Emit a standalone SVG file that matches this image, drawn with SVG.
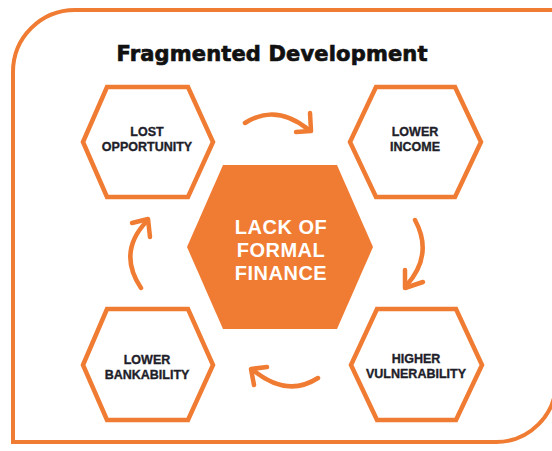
<svg xmlns="http://www.w3.org/2000/svg" width="552" height="451" viewBox="0 0 552 451">
<defs>
<style>
.border{fill:none;stroke:#F07B32;stroke-width:4}
.hex{fill:#FFFFFF;stroke:#F07B32;stroke-width:4.5;stroke-linejoin:miter}
.hexc{fill:#F07B32;stroke:none}
.lbl{font-family:"Liberation Sans",Arial,sans-serif;font-weight:bold;font-size:12.5px;fill:#1E1E2A;stroke:#1E1E2A;stroke-width:0.35px;text-anchor:middle}
.clbl{font-family:"Liberation Sans",Arial,sans-serif;font-weight:bold;font-size:20px;fill:#FFFFFF;text-anchor:middle;letter-spacing:0.5px}
.title{font-family:"DejaVu Sans","Liberation Sans",sans-serif;font-weight:bold;font-size:21px;fill:#111111;stroke:#111111;stroke-width:0.7px;text-anchor:middle}
.arr{fill:none;stroke:#F07B32;stroke-width:4.5;stroke-linecap:round;stroke-linejoin:round}
</style>
</defs>
<rect width="552" height="451" fill="#FFFFFF"/>
<path class="border" d="M13,442 V72 A62,62 0 0 1 75,10 H556 V382 A60,60 0 0 1 496,442 Z"/>
<text class="title" x="272" y="61" textLength="311" lengthAdjust="spacing">Fragmented Development</text>

<g id="lost-opportunity">
<polygon class="hex" points="83,142 107,87 188,87 213,142 188,197 107,197"/>
<text class="lbl" x="147" y="136">LOST</text>
<text class="lbl" x="147" y="151">OPPORTUNITY</text>
</g>
<g id="lower-income">
<polygon class="hex" points="350,142 376,87 455,87 481,142 455,197 376,197"/>
<text class="lbl" x="415" y="136">LOWER</text>
<text class="lbl" x="415" y="151">INCOME</text>
</g>
<g id="lower-bankability">
<polygon class="hex" points="83,365 107,309 188,309 213,365 188,420 107,420"/>
<text class="lbl" x="147" y="364">LOWER</text>
<text class="lbl" x="147" y="379">BANKABILITY</text>
</g>
<g id="higher-vulnerability">
<polygon class="hex" points="351,365 377,309 456,309 482,365 456,420 377,420"/>
<text class="lbl" x="416" y="363">HIGHER</text>
<text class="lbl" x="416" y="378">VULNERABILITY</text>
</g>
<g id="lack-of-formal-finance">
<polygon class="hexc" points="187,247 223,165 337,165 373,247 337,329 223,329"/>
<text class="clbl" x="281" y="234">LACK OF</text>
<text class="clbl" x="281" y="257">FORMAL</text>
<text class="clbl" x="281" y="280">FINANCE</text>
</g>

<g id="connectors">
<path class="arr" d="M245,123 Q276,103 309,130"/>
<path class="arr" d="M310,113 L311,131 L296,132"/>
<path class="arr" d="M415,220 Q434,255 406,286"/>
<path class="arr" d="M405,270 L405,288 L423,282"/>
<path class="arr" d="M318,378 Q287,398 253,370"/>
<path class="arr" d="M267,367 L251,369 L254,385"/>
<path class="arr" d="M141,288 Q117,252 147,221"/>
<path class="arr" d="M132,223 L148,219 L150,237"/>
</g>
</svg>
